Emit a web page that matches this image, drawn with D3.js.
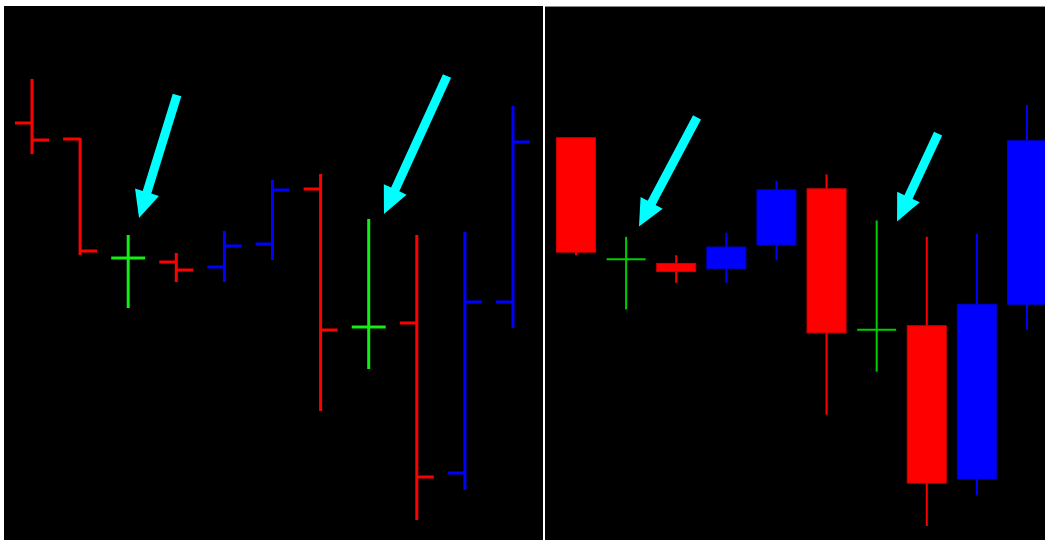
<!DOCTYPE html>
<html><head><meta charset="utf-8">
<script src="https://cdn.jsdelivr.net/npm/d3@7"></script>
<style>html,body{margin:0;padding:0;background:#fff;}svg{display:block;}</style>
</head><body>
<script>
// Bar data (price units)
const bars   = [1,2,3,4,5,6,7,8,9,10,11];
const open   = [47.7, 46.1, 34.2, 33.8, 33.3, 35.6, 41.1, 27.3, 27.7, 12.7, 29.8];
const high   = [52.0, 46.1, 36.4, 34.6, 36.8, 41.9, 42.5, 38.0, 36.4, 36.7, 49.3];
const low    = [44.7, 34.6, 29.3, 31.9, 31.9, 34.1, 19.0, 23.2,  8.1, 11.1, 27.3];
const close  = [46.0, 34.9, 34.2, 33.0, 35.4, 41.0, 27.0, 27.3, 12.3, 29.8, 45.8];
// Arrow annotations: [tailBar, tailPrice, tipBar, tipPrice]
const arrowsLeft  = [[4.015, 50.5, 3.225, 38.2], [9.628, 52.4, 8.318, 38.6]];
const arrowsRight = [[4.415, 48.1, 3.257, 37.4], [9.226, 46.5, 8.407, 37.9]];

const W = 1045, H = 540;
const svg = d3.select("body").append("svg").attr("width", W).attr("height", H);
svg.append("rect").attr("width", W).attr("height", H).attr("fill", "#fff");

const L = {x0: 4, x1: 543, y0: 6, y1: 540};
const R = {x0: 545, x1: 1045, y0: 6, y1: 540};

const data = bars.map((b, i) => ({b, o: open[i], h: high[i], l: low[i], c: close[i]}));
function color(d, green) {
  if (d.o === d.c) return green;
  return d.c < d.o ? "#ff0000" : "#0000ff";
}

const defs = svg.append("defs");
defs.append("clipPath").attr("id", "clipL").append("rect")
  .attr("x", L.x0).attr("y", L.y0).attr("width", L.x1 - L.x0).attr("height", L.y1 - L.y0);
defs.append("clipPath").attr("id", "clipR").append("rect")
  .attr("x", R.x0).attr("y", R.y0).attr("width", R.x1 - R.x0).attr("height", R.y1 - R.y0);

// ---------- Left panel: OHLC bars ----------
const gL = svg.append("g").attr("clip-path", "url(#clipL)");
gL.append("rect").attr("x", L.x0).attr("y", L.y0).attr("width", L.x1 - L.x0).attr("height", L.y1 - L.y0).attr("fill", "#000");
const xL = d3.scaleLinear().domain([1, 11]).range([32, 513]);
const yL = d3.scaleLinear().domain([6, 59.4]).range([540, 6]);
const tick = 17;
const bl = gL.selectAll("g.bar").data(data).enter().append("g")
  .attr("stroke", d => color(d, "#11ee11")).attr("stroke-width", 3);
bl.append("line").attr("x1", d => xL(d.b)).attr("x2", d => xL(d.b))
  .attr("y1", d => yL(d.h) - 1).attr("y2", d => yL(d.l) + 1);
bl.append("line").attr("x1", d => xL(d.b) - tick).attr("x2", d => xL(d.b))
  .attr("y1", d => yL(d.o)).attr("y2", d => yL(d.o));
bl.append("line").attr("x1", d => xL(d.b)).attr("x2", d => xL(d.b) + tick)
  .attr("y1", d => yL(d.c)).attr("y2", d => yL(d.c));

// ---------- Right panel: candlesticks ----------
const gR = svg.append("g").attr("clip-path", "url(#clipR)");
gR.append("rect").attr("x", R.x0).attr("y", R.y0).attr("width", R.x1 - R.x0).attr("height", R.y1 - R.y0).attr("fill", "#000");
gR.append("line").attr("x1", R.x0).attr("x2", R.x1).attr("y1", R.y0 + 0.5).attr("y2", R.y0 + 0.5)
  .attr("stroke", "#8a8a8a").attr("stroke-width", 1);
const xR = d3.scaleLinear().domain([2, 11]).range([576, 1027]);
const yR = d3.scaleLinear().domain([6, 59.4]).range([547.5, 1.8]);
const bodyW = 39;
const cr = gR.selectAll("g.c").data(data.slice(1)).enter().append("g");
cr.append("line").attr("x1", d => xR(d.b)).attr("x2", d => xR(d.b))
  .attr("y1", d => yR(d.h)).attr("y2", d => yR(d.l))
  .attr("stroke", d => color(d, "#00cc00")).attr("stroke-width", 2);
cr.filter(d => d.o !== d.c).append("rect")
  .attr("x", d => xR(d.b) - bodyW / 2).attr("width", bodyW)
  .attr("y", d => yR(Math.max(d.o, d.c)))
  .attr("height", d => Math.abs(yR(d.o) - yR(d.c)))
  .attr("fill", d => color(d))
  .attr("stroke", d => d.c < d.o ? "#d00000" : "#0000d0").attr("stroke-width", 1);
cr.filter(d => d.o === d.c).append("line")
  .attr("x1", d => xR(d.b) - 19.5).attr("x2", d => xR(d.b) + 19.5)
  .attr("y1", d => yR(d.o)).attr("y2", d => yR(d.o))
  .attr("stroke", "#00cc00").attr("stroke-width", 2);

// ---------- Arrows ----------
function arrow(g, xs, ys, a) {
  const x1 = xs(a[0]), y1 = ys(a[1]), x2 = xs(a[2]), y2 = ys(a[3]);
  const dx = x2 - x1, dy = y2 - y1, len = Math.hypot(dx, dy);
  const ux = dx / len, uy = dy / len, px = -uy, py = ux;
  const sw = 4.5, hl = 27, hw = 12.5;
  const bx = x2 - ux * hl, by = y2 - uy * hl;
  const pts = [
    [x1 + px * sw, y1 + py * sw], [bx + px * sw, by + py * sw], [bx + px * hw, by + py * hw],
    [x2, y2],
    [bx - px * hw, by - py * hw], [bx - px * sw, by - py * sw], [x1 - px * sw, y1 - py * sw]
  ];
  g.append("path").attr("d", d3.line()(pts) + "Z").attr("fill", "#00ffff");
}
arrowsLeft.forEach(a => arrow(gL, xL, yL, a));
arrowsRight.forEach(a => arrow(gR, xR, yR, a));
</script>
</body></html>
